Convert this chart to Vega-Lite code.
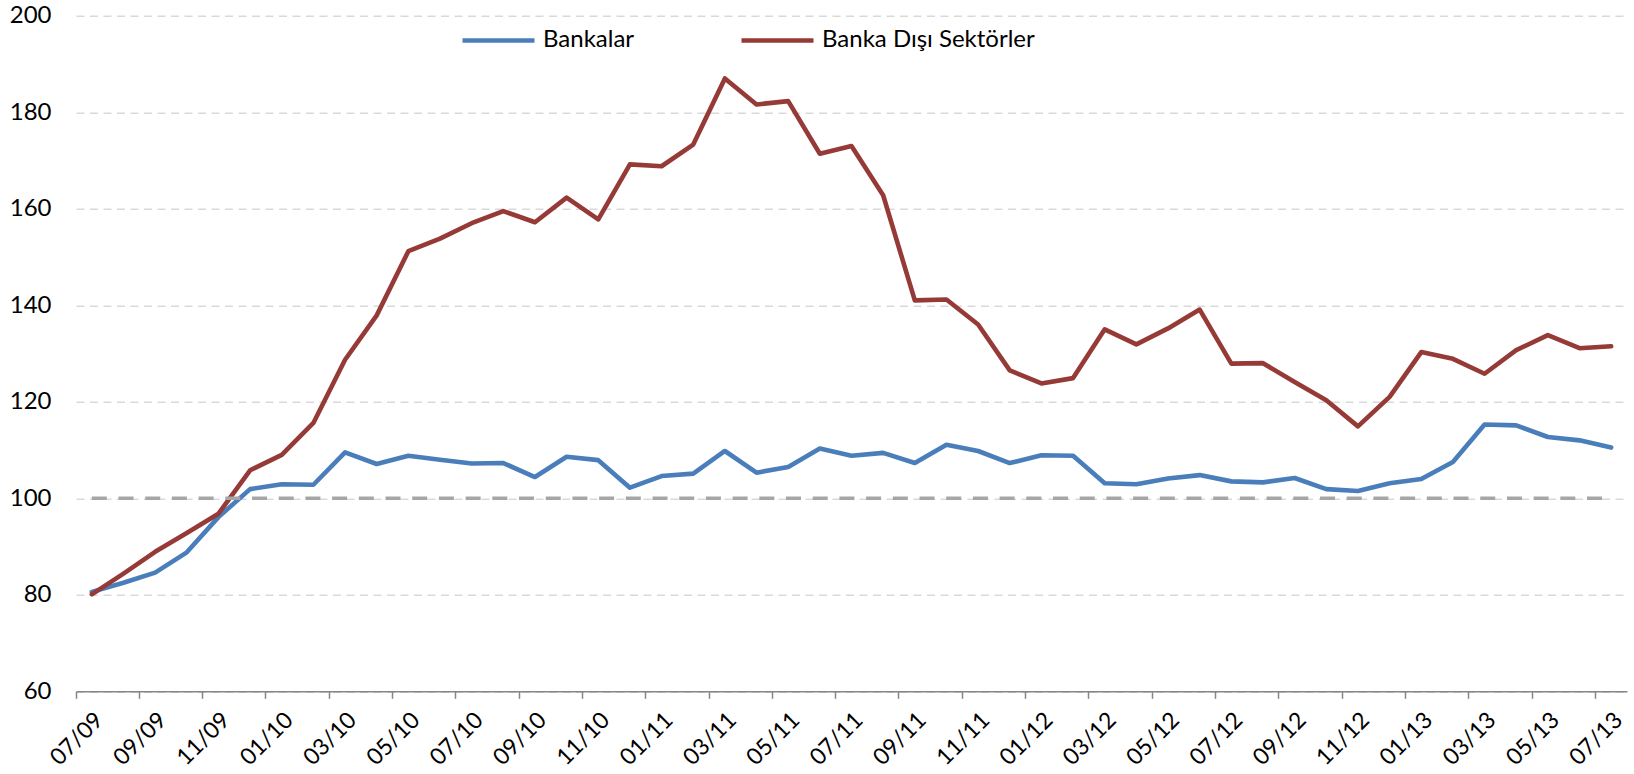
{
  "$schema": "https://vega.github.io/schema/vega-lite/v6.json",
  "width": 1551,
  "height": 675.6,
  "autosize": {"type": "none"},
  "padding": {"left": 76, "top": 15.7, "right": 7, "bottom": 82.7},
  "background": "white",
  "config": {
    "view": {"stroke": null},
    "font": "Lato",
    "axis": {"labelFont": "Lato", "labelColor": "black", "titleColor": "black"},
    "legend": {"labelFont": "Lato"}
  },
  "data": {
    "values": [
      {"ay": "07/09", "seri": "Bankalar", "deger": 80.6}, {"ay": "08/09", "seri": "Bankalar", "deger": 82.5}, {"ay": "09/09", "seri": "Bankalar", "deger": 84.6}, {"ay": "10/09", "seri": "Bankalar", "deger": 88.8}, {"ay": "11/09", "seri": "Bankalar", "deger": 96.1}, {"ay": "12/09", "seri": "Bankalar", "deger": 101.9}, {"ay": "01/10", "seri": "Bankalar", "deger": 102.9}, {"ay": "02/10", "seri": "Bankalar", "deger": 102.8}, {"ay": "03/10", "seri": "Bankalar", "deger": 109.5}, {"ay": "04/10", "seri": "Bankalar", "deger": 107.1}, {"ay": "05/10", "seri": "Bankalar", "deger": 108.8}, {"ay": "06/10", "seri": "Bankalar", "deger": 108.0}, {"ay": "07/10", "seri": "Bankalar", "deger": 107.2}, {"ay": "08/10", "seri": "Bankalar", "deger": 107.3}, {"ay": "09/10", "seri": "Bankalar", "deger": 104.4}, {"ay": "10/10", "seri": "Bankalar", "deger": 108.6}, {"ay": "11/10", "seri": "Bankalar", "deger": 107.9}, {"ay": "12/10", "seri": "Bankalar", "deger": 102.2}, {"ay": "01/11", "seri": "Bankalar", "deger": 104.6}, {"ay": "02/11", "seri": "Bankalar", "deger": 105.1}, {"ay": "03/11", "seri": "Bankalar", "deger": 109.8}, {"ay": "04/11", "seri": "Bankalar", "deger": 105.3}, {"ay": "05/11", "seri": "Bankalar", "deger": 106.5}, {"ay": "06/11", "seri": "Bankalar", "deger": 110.3}, {"ay": "07/11", "seri": "Bankalar", "deger": 108.8}, {"ay": "08/11", "seri": "Bankalar", "deger": 109.4}, {"ay": "09/11", "seri": "Bankalar", "deger": 107.3}, {"ay": "10/11", "seri": "Bankalar", "deger": 111.1}, {"ay": "11/11", "seri": "Bankalar", "deger": 109.8}, {"ay": "12/11", "seri": "Bankalar", "deger": 107.3}, {"ay": "01/12", "seri": "Bankalar", "deger": 108.9}, {"ay": "02/12", "seri": "Bankalar", "deger": 108.8}, {"ay": "03/12", "seri": "Bankalar", "deger": 103.1}, {"ay": "04/12", "seri": "Bankalar", "deger": 102.9}, {"ay": "05/12", "seri": "Bankalar", "deger": 104.1}, {"ay": "06/12", "seri": "Bankalar", "deger": 104.8}, {"ay": "07/12", "seri": "Bankalar", "deger": 103.5}, {"ay": "08/12", "seri": "Bankalar", "deger": 103.3}, {"ay": "09/12", "seri": "Bankalar", "deger": 104.2}, {"ay": "10/12", "seri": "Bankalar", "deger": 101.9}, {"ay": "11/12", "seri": "Bankalar", "deger": 101.5}, {"ay": "12/12", "seri": "Bankalar", "deger": 103.1}, {"ay": "01/13", "seri": "Bankalar", "deger": 104.0}, {"ay": "02/13", "seri": "Bankalar", "deger": 107.5}, {"ay": "03/13", "seri": "Bankalar", "deger": 115.3}, {"ay": "04/13", "seri": "Bankalar", "deger": 115.1}, {"ay": "05/13", "seri": "Bankalar", "deger": 112.7}, {"ay": "06/13", "seri": "Bankalar", "deger": 112.0}, {"ay": "07/13", "seri": "Bankalar", "deger": 110.5},
      {"ay": "07/09", "seri": "Banka Dışı Sektörler", "deger": 80.1}, {"ay": "08/09", "seri": "Banka Dışı Sektörler", "deger": 84.4}, {"ay": "09/09", "seri": "Banka Dışı Sektörler", "deger": 88.9}, {"ay": "10/09", "seri": "Banka Dışı Sektörler", "deger": 92.8}, {"ay": "11/09", "seri": "Banka Dışı Sektörler", "deger": 96.8}, {"ay": "12/09", "seri": "Banka Dışı Sektörler", "deger": 105.8}, {"ay": "01/10", "seri": "Banka Dışı Sektörler", "deger": 109.0}, {"ay": "02/10", "seri": "Banka Dışı Sektörler", "deger": 115.6}, {"ay": "03/10", "seri": "Banka Dışı Sektörler", "deger": 128.7}, {"ay": "04/10", "seri": "Banka Dışı Sektörler", "deger": 137.9}, {"ay": "05/10", "seri": "Banka Dışı Sektörler", "deger": 151.2}, {"ay": "06/10", "seri": "Banka Dışı Sektörler", "deger": 153.8}, {"ay": "07/10", "seri": "Banka Dışı Sektörler", "deger": 157.0}, {"ay": "08/10", "seri": "Banka Dışı Sektörler", "deger": 159.5}, {"ay": "09/10", "seri": "Banka Dışı Sektörler", "deger": 157.2}, {"ay": "10/10", "seri": "Banka Dışı Sektörler", "deger": 162.3}, {"ay": "11/10", "seri": "Banka Dışı Sektörler", "deger": 157.8}, {"ay": "12/10", "seri": "Banka Dışı Sektörler", "deger": 169.2}, {"ay": "01/11", "seri": "Banka Dışı Sektörler", "deger": 168.8}, {"ay": "02/11", "seri": "Banka Dışı Sektörler", "deger": 173.3}, {"ay": "03/11", "seri": "Banka Dışı Sektörler", "deger": 187.0}, {"ay": "04/11", "seri": "Banka Dışı Sektörler", "deger": 181.6}, {"ay": "05/11", "seri": "Banka Dışı Sektörler", "deger": 182.3}, {"ay": "06/11", "seri": "Banka Dışı Sektörler", "deger": 171.4}, {"ay": "07/11", "seri": "Banka Dışı Sektörler", "deger": 173.0}, {"ay": "08/11", "seri": "Banka Dışı Sektörler", "deger": 162.8}, {"ay": "09/11", "seri": "Banka Dışı Sektörler", "deger": 141.0}, {"ay": "10/11", "seri": "Banka Dışı Sektörler", "deger": 141.2}, {"ay": "11/11", "seri": "Banka Dışı Sektörler", "deger": 136.0}, {"ay": "12/11", "seri": "Banka Dışı Sektörler", "deger": 126.5}, {"ay": "01/12", "seri": "Banka Dışı Sektörler", "deger": 123.8}, {"ay": "02/12", "seri": "Banka Dışı Sektörler", "deger": 124.9}, {"ay": "03/12", "seri": "Banka Dışı Sektörler", "deger": 135.0}, {"ay": "04/12", "seri": "Banka Dışı Sektörler", "deger": 131.9}, {"ay": "05/12", "seri": "Banka Dışı Sektörler", "deger": 135.2}, {"ay": "06/12", "seri": "Banka Dışı Sektörler", "deger": 139.1}, {"ay": "07/12", "seri": "Banka Dışı Sektörler", "deger": 127.9}, {"ay": "08/12", "seri": "Banka Dışı Sektörler", "deger": 128.0}, {"ay": "09/12", "seri": "Banka Dışı Sektörler", "deger": 124.1}, {"ay": "10/12", "seri": "Banka Dışı Sektörler", "deger": 120.3}, {"ay": "11/12", "seri": "Banka Dışı Sektörler", "deger": 114.9}, {"ay": "12/12", "seri": "Banka Dışı Sektörler", "deger": 121.0}, {"ay": "01/13", "seri": "Banka Dışı Sektörler", "deger": 130.3}, {"ay": "02/13", "seri": "Banka Dışı Sektörler", "deger": 128.9}, {"ay": "03/13", "seri": "Banka Dışı Sektörler", "deger": 125.8}, {"ay": "04/13", "seri": "Banka Dışı Sektörler", "deger": 130.7}, {"ay": "05/13", "seri": "Banka Dışı Sektörler", "deger": 133.8}, {"ay": "06/13", "seri": "Banka Dışı Sektörler", "deger": 131.1}, {"ay": "07/13", "seri": "Banka Dışı Sektörler", "deger": 131.5}
    ]
  },
  "encoding": {
    "x": {
      "field": "ay",
      "type": "ordinal",
      "sort": null,
      "scale": {"type": "band", "paddingInner": 0, "paddingOuter": 0},
      "axis": {
        "title": null,
        "values": ["07/09", "09/09", "11/09", "01/10", "03/10", "05/10", "07/10", "09/10", "11/10", "01/11", "03/11", "05/11", "07/11", "09/11", "11/11", "01/12", "03/12", "05/12", "07/12", "09/12", "11/12", "01/13", "03/13", "05/13", "07/13"],
        "bandPosition": 0,
        "labelAngle": -45,
        "labelAlign": "right",
        "labelBaseline": "top",
        "labelFontSize": 23,
        "labelPadding": 10,
        "labelOffset": 0,
        "domainColor": "#868686",
        "domainWidth": 1.5,
        "tickColor": "#868686",
        "tickWidth": 1.5,
        "tickSize": 7,
        "grid": false
      }
    },
    "y": {
      "field": "deger",
      "type": "quantitative",
      "scale": {"domain": [60, 200], "nice": false, "zero": false},
      "axis": {
        "title": null,
        "values": [60, 80, 100, 120, 140, 160, 180, 200],
        "domain": false,
        "ticks": false,
        "labelPadding": 25,
        "labelFontSize": 24,
        "grid": true,
        "gridColor": "#d9d9d9",
        "gridDash": [8, 5.5],
        "gridWidth": 1.5
      }
    }
  },
  "layer": [
    {
      "transform": [{"filter": "datum.seri === 'Bankalar'"}],
      "mark": {"type": "line", "strokeWidth": 4.6, "strokeCap": "round", "strokeJoin": "round"},
      "encoding": {
        "color": {
          "field": "seri",
          "type": "nominal",
          "scale": {"domain": ["Bankalar", "Banka Dışı Sektörler"], "range": ["#4A7EBB", "#963A37"]},
          "legend": {
            "title": null,
            "orient": "none",
            "legendX": 384,
            "legendY": -14,
            "direction": "horizontal",
            "symbolType": "stroke",
            "symbolSize": 5184,
            "symbolStrokeWidth": 4.6,
            "labelFontSize": 24,
            "labelLimit": 0,
            "labelColor": "black",
            "labelOffset": 6,
            "columnPadding": 97
          }
        }
      }
    },
    {
      "transform": [{"filter": "datum.seri === 'Banka Dışı Sektörler'"}],
      "mark": {"type": "line", "strokeWidth": 4.6, "strokeCap": "round", "strokeJoin": "round"},
      "encoding": {
        "color": {"field": "seri", "type": "nominal"}
      }
    },
    {
      "transform": [{"filter": "datum.seri === 'Bankalar'"}],
      "mark": {"type": "line", "strokeWidth": 3.7, "color": "#A6A6A6", "strokeDash": [15, 11.7], "strokeCap": "butt"},
      "encoding": {
        "y": {"datum": 100}
      }
    }
  ]
}
